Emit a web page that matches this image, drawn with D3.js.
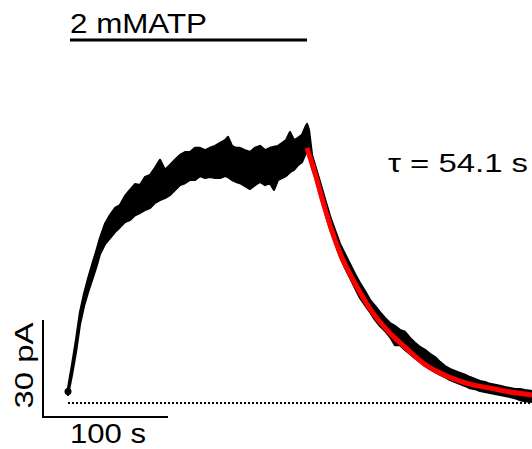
<!DOCTYPE html>
<html>
<head>
<meta charset="utf-8">
<script src="https://cdn.jsdelivr.net/npm/d3@7"></script>
<style>
  html, body { margin: 0; padding: 0; background: #fff; }
  svg { display: block; font-family: "Liberation Sans", Arial, sans-serif; }
</style>
</head>
<body>
<svg id="chart" width="532" height="449"></svg>
<script>
// ---- Data ----
// Current trace envelope: time (s), upper and lower edge of the noisy trace (pA)
const traceTime = [0, 3.2, 6.4, 9.6, 12.8, 16, 19.2, 22.4, 25.6, 29.6, 33.6, 37.6, 41.6, 45.6, 49.6, 53.6, 57.6, 61.6, 65.6, 69.6, 73.6, 77.6, 81.6, 85.6, 89.6, 93.6, 97.6, 101.6, 105.6, 109.6, 113.6, 117.6, 121.6, 125.6, 128, 131.2, 134.4, 137.6, 141.6, 145.6, 149.6, 153.6, 157.6, 161.6, 164.8, 168, 171.2, 174.4, 177.6, 180.8, 184, 187.2, 189.6, 191.2, 192.8,
  195.2, 197.6, 201.6, 205.6, 209.6, 213.6, 217.6, 221.6, 225.6, 229.6, 233.6, 237.6, 241.6, 245.6, 249.6, 253.6, 257.6, 261.6, 265.6, 269.6, 273.6, 277.6, 281.6, 285.6, 289.6, 293.6, 297.6, 301.6, 305.6, 309.6, 313.6, 317.6, 321.6, 325.6, 329.6, 333.6, 337.6, 341.6, 345.6, 349.6, 353.6, 357.6, 361.6, 365.6, 371.2];
const traceUpper = [4.6, 11.8, 19.5, 28.1, 33.7, 38.4, 42.7, 46.7, 51.0, 55.4, 58.1, 60.3, 61.2, 64.0, 65.9, 67.7, 67.4, 69.9, 70.5, 72.7, 75.2, 72.1, 73.6, 75.2, 76.7, 77.6, 77.6, 78.9, 78.9, 78.2, 78.9, 79.5, 80.4, 81.3, 82.3, 79.5, 78.9, 78.9, 78.2, 77.6, 78.9, 79.5, 78.2, 78.9, 79.2, 79.5, 80.4, 81.3, 83.8, 81.3, 82.0, 82.9, 85.1, 86.3, 84.4,
  76.7, 73.6, 68.4, 63.1, 57.8, 53.5, 49.2, 46.1, 43.0, 39.9, 37.1, 34.6, 31.9, 30.0, 28.1, 26.3, 24.7, 23.8, 22.6, 22.0, 20.1, 18.6, 17.3, 16.4, 15.2, 14.2, 12.7, 11.4, 10.5, 9.9, 9.3, 8.7, 8.0, 7.4, 6.8, 6.5, 5.9, 5.6, 5.3, 4.9, 4.6, 4.3, 4.3, 4.0, 3.7];
const traceLower = [2.5, 8.7, 15.8, 24.4, 30.0, 34.3, 38.0, 41.8, 46.1, 49.2, 51.0, 52.9, 54.4, 56.0, 56.6, 58.1, 58.8, 59.7, 60.3, 61.9, 62.8, 63.4, 64.3, 65.9, 67.4, 68.0, 69.0, 69.0, 70.2, 69.6, 69.9, 69.6, 69.6, 70.2, 69.9, 69.0, 68.4, 68.0, 67.1, 66.2, 67.4, 68.4, 67.4, 68.0, 65.9, 69.0, 69.6, 70.2, 71.4, 72.1, 73.6, 74.5, 76.7, 78.2, 76.7,
  72.7, 69.9, 64.3, 59.1, 53.8, 49.5, 45.2, 41.8, 38.7, 35.6, 32.5, 30.3, 28.1, 25.7, 23.8, 22.3, 20.4, 17.9, 17.9, 16.4, 15.2, 13.9, 12.7, 11.4, 10.5, 9.6, 8.7, 8.0, 7.1, 6.5, 5.9, 5.3, 4.6, 4.3, 3.7, 3.4, 3.1, 2.8, 2.5, 2.2, 1.9, 1.5, 0.9, 0.6, 0.3];

// Exponential fit of the deactivation (red), read at these times (s) / currents (pA)
const fitTime = [191.2, 197.6, 204, 210.4, 217.6, 231.2, 244, 257.6, 269.6, 284, 297.6, 311.2, 324, 337.6, 353.6, 371.2];
const fitCurrent = [78.9, 71.1, 62.2, 54.1, 46.4, 35.9, 27.8, 21.6, 17.3, 12.4, 9.3, 7.1, 5.6, 4.6, 3.4, 2.5];

// Application bar of ATP (s)
const atpStart = 1.6, atpEnd = 191.2;
const atpLabel = "2 mMATP";
const tauLabel = "\u03C4 = 54.1 s";
// Scale bars
const scaleTime = 100, scaleTimeLabel = "100 s";
const scaleCurrent = 30, scaleCurrentLabel = "30 pA";

// ---- Drawing ----
const svg = d3.select("#chart");
const x = d3.scaleLinear().domain([0, 371.2]).range([68, 532]);
const y = d3.scaleLinear().domain([0, 30]).range([403, 306]);

const trace = traceTime.map((t, i) => ({t, hi: traceUpper[i], lo: traceLower[i]}));
const fit = fitTime.map((t, i) => ({t, v: fitCurrent[i]}));

// baseline (dotted)
svg.append("line")
  .attr("x1", x(0)).attr("x2", x(371.2))
  .attr("y1", y(0)).attr("y2", y(0))
  .attr("stroke", "#000").attr("stroke-width", 2)
  .attr("stroke-dasharray", "2,2");

// trace band
const area = d3.area()
  .x(d => x(d.t)).y0(d => y(d.lo)).y1(d => y(d.hi))
  .curve(d3.curveLinear);
svg.append("path").datum(trace)
  .attr("d", area)
  .attr("fill", "#000").attr("stroke", "#000")
  .attr("stroke-width", 2.2).attr("stroke-linejoin", "round");

// initial dot at the start of the trace
svg.append("circle")
  .attr("cx", x(traceTime[0])).attr("cy", y((traceUpper[0] + traceLower[0]) / 2))
  .attr("r", 3.5).attr("fill", "#000");

// fit (red)
const line = d3.line().x(d => x(d.t)).y(d => y(d.v)).curve(d3.curveMonotoneX);
svg.append("path").datum(fit)
  .attr("d", line)
  .attr("fill", "none").attr("stroke", "#ff0000")
  .attr("stroke-width", 5).attr("stroke-linecap", "butt");

// ATP application bar and label
svg.append("line")
  .attr("x1", x(atpStart)).attr("x2", x(atpEnd))
  .attr("y1", 40).attr("y2", 40)
  .attr("stroke", "#000").attr("stroke-width", 3);
svg.append("text")
  .attr("x", x(atpStart)).attr("y", 33)
  .attr("font-size", 28)
  .attr("textLength", 137).attr("lengthAdjust", "spacingAndGlyphs")
  .text(atpLabel);

// tau label
svg.append("text")
  .attr("x", 388).attr("y", 172)
  .attr("font-size", 26)
  .attr("textLength", 140).attr("lengthAdjust", "spacingAndGlyphs")
  .text(tauLabel);

// scale bars
const sbX = 43, sbY = 417;
const sbLenX = x(scaleTime) - x(0);
const sbLenY = y(0) - y(scaleCurrent);
svg.append("path")
  .attr("d", `M${sbX},${sbY - sbLenY}V${sbY}H${sbX + sbLenX}`)
  .attr("fill", "none").attr("stroke", "#000").attr("stroke-width", 2);
svg.append("text")
  .attr("x", 70).attr("y", 443)
  .attr("font-size", 27)
  .attr("textLength", 76).attr("lengthAdjust", "spacingAndGlyphs")
  .text(scaleTimeLabel);
svg.append("text")
  .attr("transform", `translate(33,${sbY - sbLenY / 2 - 3}) rotate(-90)`)
  .attr("text-anchor", "middle")
  .attr("font-size", 25)
  .attr("textLength", 86).attr("lengthAdjust", "spacingAndGlyphs")
  .text(scaleCurrentLabel);
</script>
</body>
</html>
